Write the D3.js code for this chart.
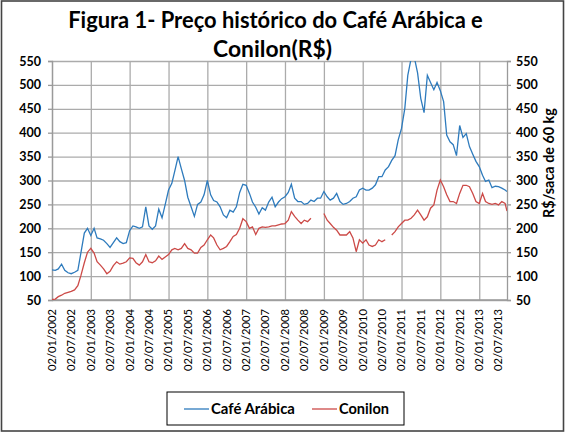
<!DOCTYPE html>
<html>
<head>
<meta charset="utf-8">
<script src="https://cdn.jsdelivr.net/npm/d3@7"></script>
<style>
body { margin: 0; background: #fff; }
svg text { font-family: Lato, "Open Sans", sans-serif; fill: #000; }
</style>
</head>
<body>
<svg width="566" height="437"></svg>
<script>
// monthly readings, Jan 2002 .. Sep 2013, plus last day shown (~20/09/2013)
var arabica = [
  113, 112, 115, 125, 112, 107, 105, 108, 112, 150, 190, 200,   // 2002
  185, 200, 180, 178, 175, 168, 160, 170, 180, 172, 168, 170,   // 2003
  195, 205, 203, 200, 203, 245, 205, 198, 205, 240, 222, 250,   // 2004
  280, 294, 320, 350, 325, 300, 265, 245, 225, 250, 255, 270,   // 2005
  300, 270, 258, 255, 245, 228, 222, 238, 234, 245, 275, 292,   // 2006
  290, 273, 255, 244, 230, 243, 238, 255, 265, 245, 255, 262,   // 2007
  266, 275, 292, 263, 256, 256, 250, 252, 259, 256, 263, 263,   // 2008
  277, 266, 259, 263, 273, 256, 250, 252, 256, 263, 266, 280,   // 2009
  284, 280, 280, 284, 291, 308, 308, 322, 329, 342, 352, 385,   // 2010
  409, 451, 520, 555, 558, 525, 472, 442, 520, 505, 490, 505,   // 2011
  488, 465, 395, 381, 375, 352, 415, 390, 398, 371, 355, 340,   // 2012
  329, 311, 298, 301, 285, 288, 287, 284, 280, 277              // 2013
];
var conilon = [
  51, 52, 57, 60, 64, 66, 68, 71, 80, 102, 128, 150,            // 2002
  158, 148, 130, 123, 115, 105, 110, 122, 130, 125, 127, 130,   // 2003
  138, 137, 128, 123, 130, 145, 130, 128, 132, 142, 135, 140,   // 2004
  145, 155, 158, 155, 158, 168, 158, 155, 148, 148, 160, 165,   // 2005
  176, 186, 180, 165, 155, 158, 162, 172, 183, 187, 200, 220,   // 2006
  214, 200, 203, 187, 200, 203, 202, 203, 205, 205, 207, 209,   // 2007
  210, 217, 235, 225, 217, 210, 217, 214, 221, null, null, null,// 2008
  231, 217, 210, 202, 196, 186, 186, 186, 193, 180, 151, 176,   // 2009
  169, 176, 165, 162, 165, 176, 172, 176, null, 186, 193, 203,  // 2010
  210, 217, 217, 221, 228, 238, 228, 217, 224, 242, 249, 280,   // 2011
  301, 287, 270, 256, 256, 252, 273, 290, 290, 287, 273, 256,   // 2012
  252, 273, 256, 252, 250, 252, 249, 256, 252, 236              // 2013
];
var dates = d3.range(141).map(function(i){ return new Date(2002, i, 2); })
              .concat([new Date(2013, 8, 20)]);
var xTicks = d3.range(24).map(function(i){ return new Date(2002, i * 6, 2); });
var yTicks = [50, 100, 150, 200, 250, 300, 350, 400, 450, 500, 550];
var seriesNames = ["Café Arábica", "Conilon"];
var colors = ["#2e7bbd", "#cc4a47"];

var svg = d3.select("svg");
var plot = {left: 52, right: 507, top: 61, bottom: 300};

var x = d3.scaleTime().domain([new Date(2002, 0, 2), new Date(2013, 8, 20)]).range([plot.left, plot.right]);
var y = d3.scaleLinear().domain([50, 550]).range([plot.bottom, plot.top]);

// outer border
svg.append("rect").attr("x", 1.5).attr("y", 1).attr("width", 562).attr("height", 430)
  .attr("fill", "none").attr("stroke", "#444").attr("stroke-width", 1.6);

// fit text to a width by changing font size
function fit(sel, width) {
  sel.each(function(){
    var fs = parseFloat(d3.select(this).style("font-size"));
    var w = this.getComputedTextLength();
    d3.select(this).style("font-size", (fs * width / w) + "px");
  });
}

// title
svg.append("text").attr("x", 275.5).attr("y", 28).attr("text-anchor", "middle")
  .style("font-weight", "bold").style("font-size", "22px")
  .text("Figura 1- Preço histórico do Café Arábica e").call(fit, 415);
svg.append("text").attr("x", 272.5).attr("y", 57).attr("text-anchor", "middle")
  .style("font-weight", "bold").style("font-size", "22px")
  .text("Conilon(R$)").call(fit, 119);

// grid
svg.append("g").attr("transform", "translate(" + plot.left + ",0)")
  .call(d3.axisLeft(y).tickValues(yTicks).tickSize(-(plot.right - plot.left)).tickFormat(""))
  .call(function(g){ g.select(".domain").remove(); g.selectAll("line").attr("stroke", "#ababab").attr("stroke-width", 1.3); });
svg.append("g").attr("transform", "translate(0," + plot.bottom + ")")
  .call(d3.axisBottom(x).tickValues(xTicks.filter(function(d, i){ return i % 2 == 0; }))
        .tickSize(-(plot.bottom - plot.top)).tickFormat(""))
  .call(function(g){ g.select(".domain").remove(); g.selectAll("line").attr("stroke", "#ababab").attr("stroke-width", 1.3); });

// axes
var left = svg.append("g").attr("transform", "translate(" + plot.left + ",0)")
  .call(d3.axisLeft(y).tickValues(yTicks).tickSize(4).tickPadding(7));
var right = svg.append("g").attr("transform", "translate(" + plot.right + ",0)")
  .call(d3.axisRight(y).tickValues(yTicks).tickSize(4).tickPadding(5));
[left, right].forEach(function(g){
  g.select(".domain").attr("stroke", "#9a9a9a").attr("stroke-width", 1.3);
  g.selectAll(".tick line").attr("stroke", "#9a9a9a").attr("stroke-width", 1.3);
  g.selectAll("text").style("font-family", "Lato, sans-serif").style("font-size", "12.5px")
   .style("font-weight", "bold").attr("fill", "#000");
});
svg.append("line").attr("x1", plot.left).attr("x2", plot.right).attr("y1", plot.bottom).attr("y2", plot.bottom)
  .attr("stroke", "#9a9a9a").attr("stroke-width", 1.3);

// x labels
var fmt = d3.timeFormat("%d/%m/%Y");
svg.append("g").selectAll("text").data(xTicks).enter().append("text")
  .attr("transform", function(d){ return "translate(" + x(d) + ",309) rotate(-90)"; })
  .attr("text-anchor", "end").attr("dy", "0.35em")
  .style("font-size", "12px")
  .text(fmt).call(fit, 62);

// right title
svg.append("text").attr("transform", "translate(549,163) rotate(-90)")
  .attr("text-anchor", "middle").attr("dy", "0.35em")
  .style("font-weight", "bold").style("font-size", "14px")
  .text("R$/saca de 60 kg").call(fit, 110);

// lines
svg.append("clipPath").attr("id", "clip").append("rect")
  .attr("x", plot.left).attr("y", plot.top).attr("width", plot.right - plot.left).attr("height", plot.bottom - plot.top);

var line = d3.line()
  .defined(function(d){ return d[1] != null; })
  .x(function(d){ return x(d[0]); })
  .y(function(d){ return y(d[1]); });

[arabica, conilon].forEach(function(vals, k){
  svg.append("path")
    .datum(dates.map(function(d, i){ return [d, vals[i]]; }))
    .attr("clip-path", "url(#clip)")
    .attr("fill", "none").attr("stroke", colors[k]).attr("stroke-width", 1.3)
    .attr("d", line);
});

// legend
var leg = svg.append("g");
leg.append("rect").attr("x", 167).attr("y", 392).attr("width", 237).attr("height", 33)
  .attr("fill", "#fff").attr("stroke", "#000").attr("stroke-width", 1);
var legX = [184, 312], legW = [84, 50];
seriesNames.forEach(function(name, k){
  leg.append("line").attr("x1", legX[k]).attr("x2", legX[k] + 25).attr("y1", 409).attr("y2", 409)
    .attr("stroke", colors[k]).attr("stroke-width", 1.3);
  leg.append("text").attr("x", legX[k] + 27).attr("y", 414)
    .style("font-weight", "bold").style("font-size", "14px")
    .text(name).call(fit, legW[k]);
});
</script>
</body>
</html>
